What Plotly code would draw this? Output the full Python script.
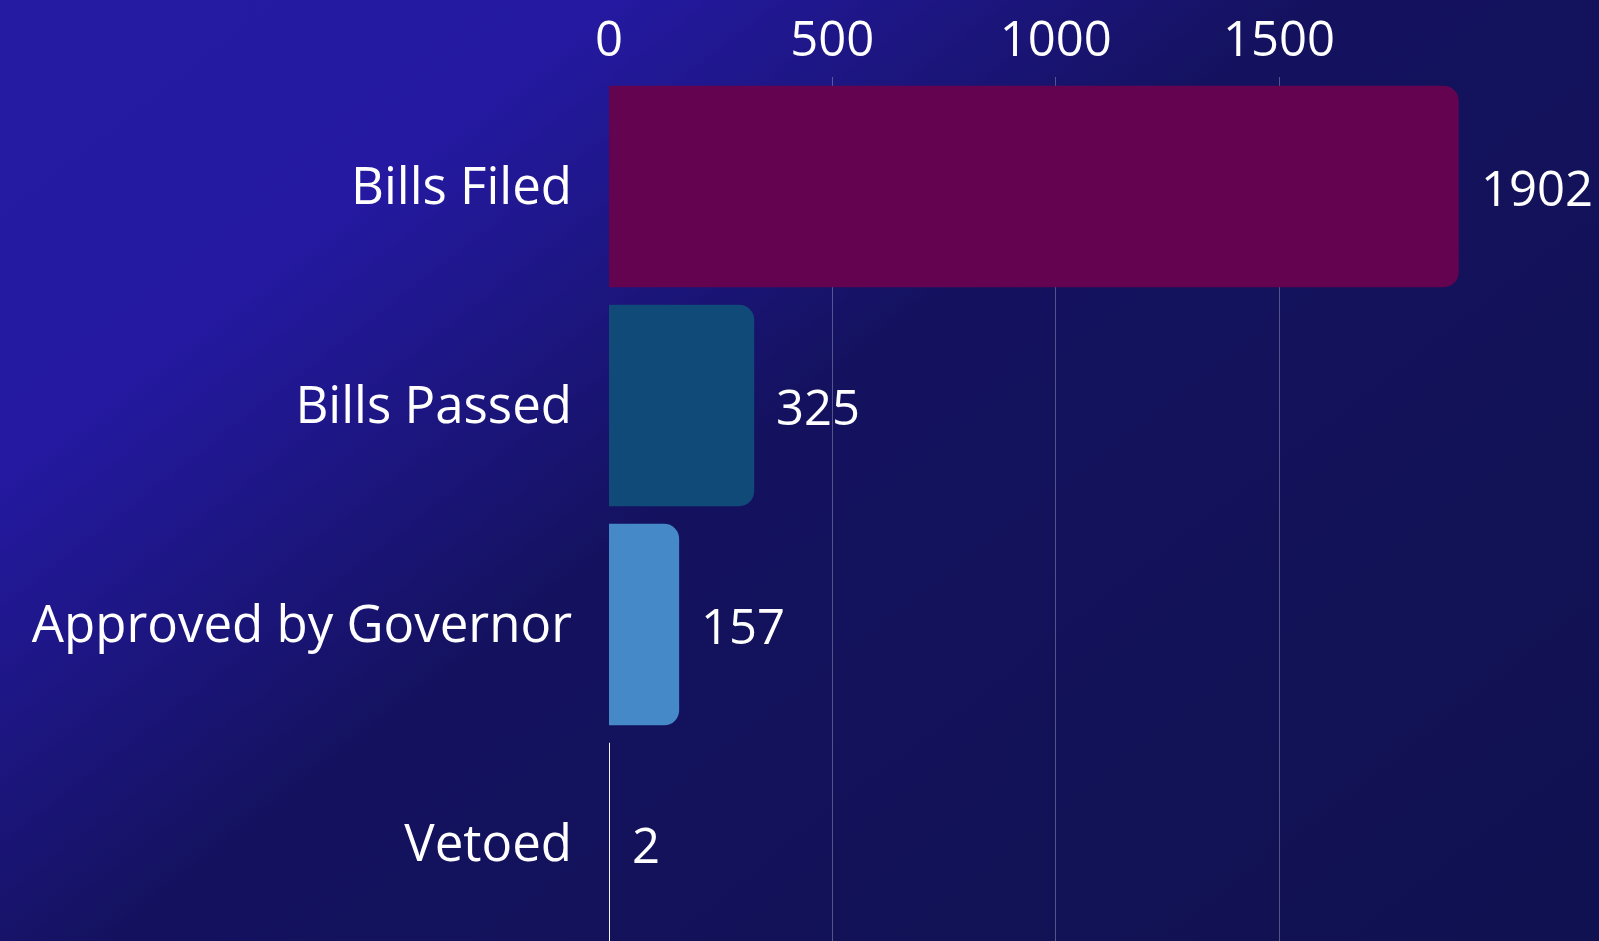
import base64
import plotly.graph_objects as go

# ---- data ----
categories = ["Bills Filed", "Bills Passed", "Approved by Governor", "Vetoed"]
values = [1902, 325, 157, 2]
bar_colors = ["#640450", "#0F4A78", "#4589C8", "#F2F2F8"]
tick_vals = [0, 500, 1000, 1500]
tick_text = ["0", "500", "1000", "1500"]

W, H = 1599, 941
ML, MT, MB = 609, 77, 0
XMAX = 1990
PX_PER_UNIT = 0.4466
plot_w = XMAX * PX_PER_UNIT
MR = W - ML - plot_w
plot_h = H - MT - MB

FONT = "Open Sans"
FS = 49

# ---- gradient background (SVG data URI) ----
svg = f'''<svg xmlns="http://www.w3.org/2000/svg" width="{W}" height="{H}" viewBox="0 0 {W} {H}" preserveAspectRatio="none">
<defs><linearGradient id="g" gradientUnits="userSpaceOnUse" x1="0" y1="0" x2="{0.614*1725:.1f}" y2="{0.789*1725:.1f}">
<stop offset="0" stop-color="#251BA3"/>
<stop offset="0.22" stop-color="#2419A0"/>
<stop offset="0.47" stop-color="#14125F"/>
<stop offset="1" stop-color="#101150"/>
</linearGradient></defs>
<rect x="0" y="0" width="{W}" height="{H}" fill="url(#g)"/>
</svg>'''
bg_uri = "data:image/svg+xml;base64," + base64.b64encode(svg.encode()).decode()

fig = go.Figure()
fig.add_trace(go.Bar(
    x=values,
    y=categories,
    orientation="h",
    marker=dict(color=bar_colors, cornerradius=15, line=dict(width=0)),
    hoverinfo="skip",
))

for cat, val in zip(categories, values):
    fig.add_annotation(
        x=val, y=cat, text=str(val), showarrow=False,
        xanchor="left", yanchor="middle", xshift=20,
        font=dict(family=FONT, size=FS, color="white"),
    )

fig.add_layout_image(dict(
    source=bg_uri, xref="paper", yref="paper",
    x=-ML / plot_w, y=1 + MT / plot_h,
    sizex=W / plot_w, sizey=H / plot_h,
    xanchor="left", yanchor="top", sizing="stretch", layer="below",
))

fig.update_layout(
    width=W, height=H,
    margin=dict(l=ML, r=MR, t=MT, b=MB, pad=0),
    paper_bgcolor="#101150",
    plot_bgcolor="rgba(0,0,0,0)",
    showlegend=False,
    bargap=0.08,
    font=dict(family=FONT, size=FS, color="white"),
    xaxis=dict(
        range=[0, XMAX], side="top", tickvals=tick_vals, ticktext=tick_text,
        showgrid=True, gridcolor="rgba(255,255,255,0.28)", gridwidth=1,
        zeroline=False, showline=False, ticks="", ticklabelstandoff=10,
        tickfont=dict(family=FONT, size=FS, color="white"),
        automargin=False, fixedrange=True,
    ),
    yaxis=dict(
        categoryorder="array", categoryarray=categories,
        range=[3.445, -0.5], showgrid=False, zeroline=False, showline=False,
        ticks="", ticklabelstandoff=36,
        tickfont=dict(family=FONT, size=51, color="white"),
        automargin=False, fixedrange=True,
    ),
)

fig.write_html(
    "out.html",
    config={"displayModeBar": False},
    post_script="document.body.style.margin='0';document.body.style.overflow='hidden';",
)
